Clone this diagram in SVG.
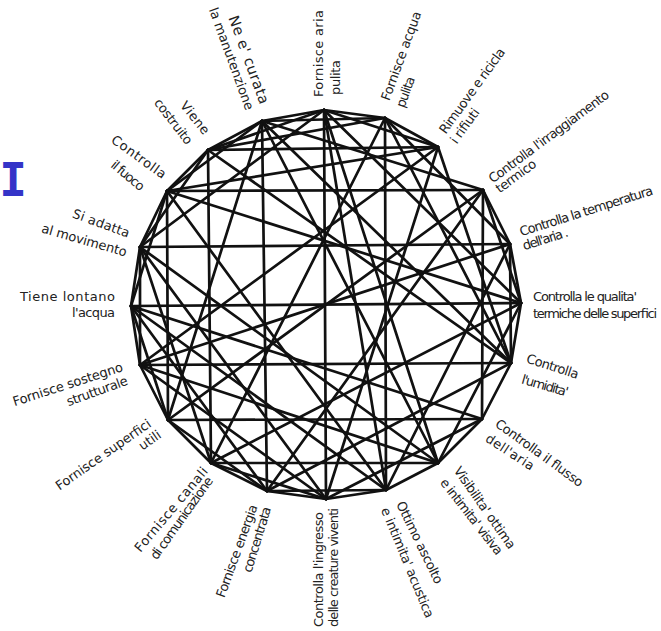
<svg xmlns="http://www.w3.org/2000/svg" width="661" height="631" viewBox="0 0 661 631">
<style>
.c line{stroke:#111;stroke-width:2.7;stroke-linecap:round}
.t{font-family:"DejaVu Sans","Liberation Sans",sans-serif;font-size:13px;fill:#222;dominant-baseline:central}
.l{font-size:14.5px}
.big{font-family:"DejaVu Sans Mono","Liberation Mono",monospace;font-weight:bold;font-size:46px;fill:#3434c8}
</style>
<rect width="661" height="631" fill="#fff"/>
<text class="big" x="13" y="196" text-anchor="middle">I</text>
<g class="c" id="connectors">
<line x1="208" y1="150" x2="262" y2="121"/><line x1="262" y1="121" x2="324" y2="110"/><line x1="324" y1="110" x2="385" y2="118"/><line x1="385" y1="118" x2="438" y2="147"/>
<line x1="483" y1="190" x2="510" y2="244"/><line x1="510" y1="244" x2="521" y2="303"/><line x1="521" y1="303" x2="511" y2="363"/><line x1="511" y1="363" x2="482" y2="419"/>
<line x1="482" y1="419" x2="438" y2="463"/><line x1="438" y1="463" x2="386" y2="490"/><line x1="386" y1="490" x2="326" y2="499"/><line x1="326" y1="499" x2="267" y2="491"/>
<line x1="267" y1="491" x2="211" y2="463"/><line x1="211" y1="463" x2="168" y2="420"/><line x1="168" y1="420" x2="140" y2="365"/><line x1="140" y1="365" x2="131" y2="306"/>
<line x1="131" y1="306" x2="140" y2="247"/><line x1="140" y1="247" x2="167" y2="191"/><line x1="167" y1="191" x2="208" y2="150"/>
<line x1="262" y1="121" x2="385" y2="118"/><line x1="262" y1="121" x2="267" y2="491"/><line x1="262" y1="121" x2="167" y2="191"/><line x1="262" y1="121" x2="438" y2="463"/><line x1="262" y1="121" x2="511" y2="363"/><line x1="262" y1="121" x2="168" y2="420"/><line x1="262" y1="121" x2="483" y2="190"/>
<line x1="324" y1="110" x2="326" y2="499"/><line x1="324" y1="110" x2="438" y2="463"/><line x1="324" y1="110" x2="386" y2="490"/><line x1="324" y1="110" x2="438" y2="147"/><line x1="324" y1="110" x2="208" y2="150"/><line x1="324" y1="110" x2="140" y2="247"/><line x1="324" y1="110" x2="521" y2="303"/>
<line x1="385" y1="118" x2="386" y2="490"/><line x1="385" y1="118" x2="208" y2="150"/><line x1="385" y1="118" x2="511" y2="363"/><line x1="385" y1="118" x2="211" y2="463"/><line x1="385" y1="118" x2="510" y2="244"/>
<line x1="438" y1="147" x2="208" y2="150"/><line x1="438" y1="147" x2="511" y2="363"/><line x1="438" y1="147" x2="326" y2="499"/><line x1="438" y1="147" x2="140" y2="365"/><line x1="438" y1="147" x2="167" y2="191"/>
<line x1="483" y1="190" x2="482" y2="419"/><line x1="483" y1="190" x2="167" y2="191"/><line x1="483" y1="190" x2="521" y2="303"/><line x1="483" y1="190" x2="168" y2="420"/><line x1="483" y1="190" x2="267" y2="491"/>
<line x1="510" y1="244" x2="511" y2="363"/><line x1="510" y1="244" x2="140" y2="247"/><line x1="510" y1="244" x2="140" y2="365"/><line x1="510" y1="244" x2="386" y2="490"/>
<line x1="521" y1="303" x2="131" y2="306"/><line x1="521" y1="303" x2="211" y2="463"/><line x1="521" y1="303" x2="167" y2="191"/><line x1="521" y1="303" x2="438" y2="463"/>
<line x1="511" y1="363" x2="140" y2="365"/><line x1="511" y1="363" x2="267" y2="491"/><line x1="511" y1="363" x2="208" y2="150"/>
<line x1="482" y1="419" x2="168" y2="420"/><line x1="482" y1="419" x2="131" y2="306"/><line x1="482" y1="419" x2="326" y2="499"/>
<line x1="438" y1="463" x2="211" y2="463"/><line x1="438" y1="463" x2="140" y2="247"/><line x1="438" y1="463" x2="140" y2="365"/>
<line x1="386" y1="490" x2="267" y2="491"/><line x1="386" y1="490" x2="131" y2="306"/><line x1="386" y1="490" x2="167" y2="191"/>
<line x1="326" y1="499" x2="140" y2="365"/><line x1="326" y1="499" x2="140" y2="247"/><line x1="326" y1="499" x2="211" y2="463"/>
<line x1="267" y1="491" x2="131" y2="306"/><line x1="267" y1="491" x2="168" y2="420"/>
<line x1="211" y1="463" x2="140" y2="247"/><line x1="211" y1="463" x2="208" y2="150"/>
<line x1="168" y1="420" x2="167" y2="191"/><line x1="168" y1="420" x2="131" y2="306"/>
<line x1="140" y1="365" x2="140" y2="247"/>
<line x1="131" y1="306" x2="167" y2="191"/>
<line x1="140" y1="247" x2="208" y2="150"/>
</g>
<g id="n1"><text class="t l" transform="translate(233,16) rotate(70)" textLength="93">Ne e' curata</text><text class="t" transform="translate(213,8) rotate(70)" textLength="108">la manutenzione</text></g>
<g id="n2"><text class="t" transform="translate(318,97) rotate(-90)" textLength="87">Fornisce aria</text><text class="t" transform="translate(335,95) rotate(-90)" textLength="35">pulita</text></g>
<g id="n3"><text class="t" transform="translate(385,100) rotate(-70)" textLength="94">Fornisce acqua</text><text class="t" transform="translate(400,107) rotate(-70)" textLength="32">pulita</text></g>
<g id="n4"><text class="t" transform="translate(442,132) rotate(-54)" textLength="102">Rimuove e ricicla</text><text class="t" transform="translate(453,142) rotate(-54)" textLength="40">i rifiuti</text></g>
<g id="n5"><text class="t" transform="translate(490,180) rotate(-36.5)" textLength="146">Controlla l'irraggiamento</text><text class="t" transform="translate(497,190) rotate(-36.5)" textLength="47">termico</text></g>
<g id="n6"><text class="t" transform="translate(520,232) rotate(-17.6)" textLength="139">Controlla la temperatura</text><text class="t" transform="translate(523,246) rotate(-17.6)" textLength="47">dell'aria .</text></g>
<g id="n7"><text class="t" x="533" y="296" textLength="104">Controlla le qualita'</text><text class="t" x="533" y="313" textLength="124">termiche delle superfici</text></g>
<g id="n8"><text class="t" transform="translate(527,358) rotate(18)" textLength="54">Controlla</text><text class="t" transform="translate(522,379) rotate(16)" textLength="48">l'umidita'</text></g>
<g id="n9"><text class="t" transform="translate(497,422) rotate(36)" textLength="105">Controlla  il flusso</text><text class="t" transform="translate(487,437) rotate(33)" textLength="55">dell'aria</text></g>
<g id="n10"><text class="t" transform="translate(457,468) rotate(55)" textLength="97">Visibilita' ottima</text><text class="t" transform="translate(443,480) rotate(52)" textLength="93">e intimita' visiva</text></g>
<g id="n11"><text class="t" transform="translate(400,502) rotate(64)" textLength="90">Ottimo ascolto</text><text class="t" transform="translate(385,508) rotate(67.5)" textLength="118">e intimita' acustica</text></g>
<g id="n12"><text class="t" transform="translate(318,627) rotate(-90)" textLength="115">Controlla l'ingresso</text><text class="t" transform="translate(333,627) rotate(-90)" textLength="119">delle creature viventi</text></g>
<g id="n13"><text class="t" transform="translate(220,597) rotate(-70)" textLength="98">Fornisce energia</text><text class="t" transform="translate(247,572) rotate(-73)" textLength="68">concentrata</text></g>
<g id="n14"><text class="t" transform="translate(137,550) rotate(-50)" textLength="106">Fornisce canali</text><text class="t" transform="translate(153,558) rotate(-54.5)" textLength="98">di comunicazione</text></g>
<g id="n15"><text class="t" transform="translate(57,487) rotate(-35)" textLength="113">Fornisce superfici</text><text class="t" transform="translate(140,447) rotate(-35)" textLength="24">utili</text></g>
<g id="n16"><text class="t" transform="translate(13,402) rotate(-18)" textLength="115">Fornisce sostegno</text><text class="t" transform="translate(67,402) rotate(-20)" textLength="64">strutturale</text></g>
<g id="n17"><text class="t" x="115" y="296" text-anchor="end" textLength="95">Tiene lontano</text><text class="t" x="115" y="312" text-anchor="end" textLength="43">l'acqua</text></g>
<g id="n18"><text class="t" transform="translate(73,213) rotate(20)" textLength="60">Si adatta</text><text class="t" transform="translate(42,228) rotate(16)" textLength="88">al movimento</text></g>
<g id="n19"><text class="t" transform="translate(113,138) rotate(36)" textLength="64">Controlla</text><text class="t" transform="translate(113,163) rotate(40)" textLength="39">il fuoco</text></g>
<g id="n20"><text class="t" transform="translate(183,103) rotate(51)" textLength="38">Viene</text><text class="t" transform="translate(157,100) rotate(52.5)" textLength="54">costruito</text></g>
</svg>
